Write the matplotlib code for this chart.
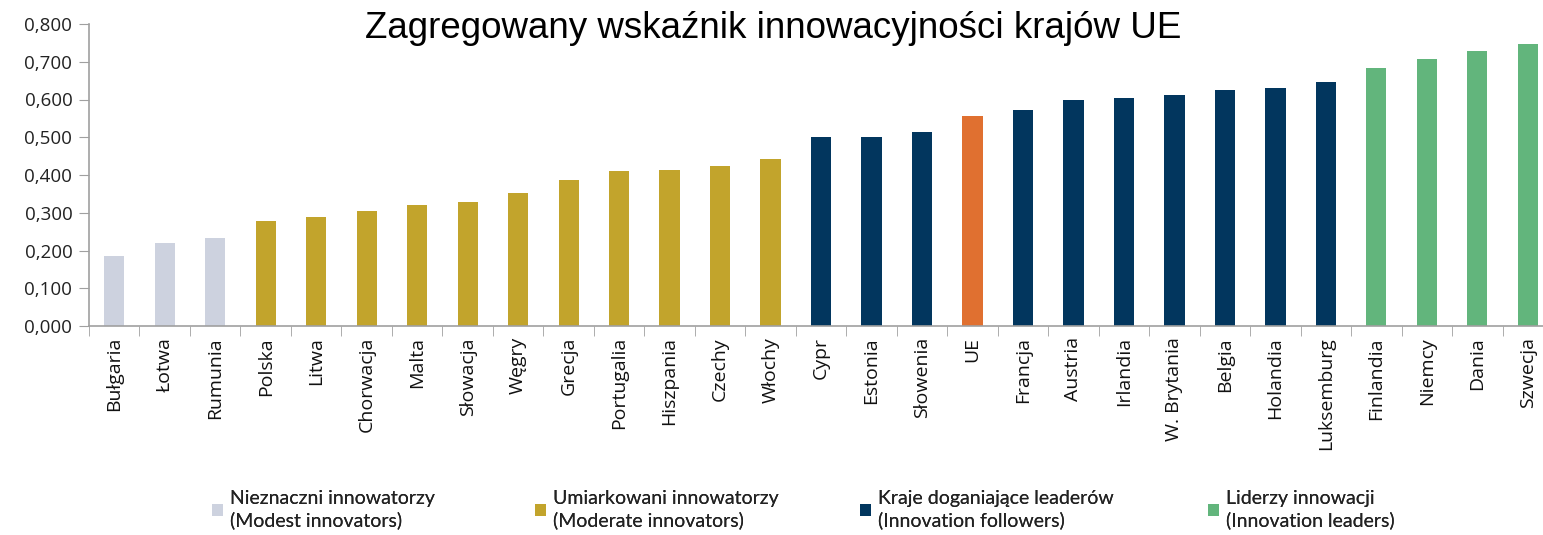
import matplotlib
matplotlib.use("Agg")
import matplotlib.pyplot as plt
from matplotlib.patches import Patch
from matplotlib.ticker import FixedLocator, FuncFormatter
import numpy as np

countries = ["Bułgaria", "Łotwa", "Rumunia", "Polska", "Litwa", "Chorwacja", "Malta",
             "Słowacja", "Węgry", "Grecja", "Portugalia", "Hiszpania", "Czechy", "Włochy",
             "Cypr", "Estonia", "Słowenia", "UE", "Francja", "Austria", "Irlandia",
             "W. Brytania", "Belgia", "Holandia", "Luksemburg", "Finlandia", "Niemcy",
             "Dania", "Szwecja"]
values = [0.186, 0.221, 0.234, 0.279, 0.288, 0.305, 0.320,
          0.328, 0.352, 0.386, 0.410, 0.413, 0.423, 0.443,
          0.501, 0.501, 0.513, 0.555, 0.572, 0.600, 0.605,
          0.611, 0.625, 0.630, 0.646, 0.683, 0.706,
          0.728, 0.748]
groups = (["modest"] * 3 + ["moderate"] * 11 + ["follower"] * 3 + ["eu"] +
          ["follower"] * 7 + ["leader"] * 4)
group_colors = {"modest": "#CDD2DF", "moderate": "#C2A42C", "follower": "#02365E",
                "leader": "#62B57C", "eu": "#E07030"}
legend_keys = ["modest", "moderate", "follower", "leader"]
legend_labels = ["Nieznaczni innowatorzy\n(Modest innovators)",
                 "Umiarkowani innowatorzy\n(Moderate innovators)",
                 "Kraje doganiające leaderów\n(Innovation followers)",
                 "Liderzy innowacji\n(Innovation leaders)"]
yticks = [0.0, 0.1, 0.2, 0.3, 0.4, 0.5, 0.6, 0.7, 0.8]
title = "Zagregowany wskaźnik innowacyjności krajów UE"

W, H = 1543, 535
fig = plt.figure(figsize=(W / 100, H / 100), dpi=100)
ax = fig.add_axes([89 / W, 1 - 326 / H, 1 - 89 / W, (326 - 24) / H])

x = np.arange(len(countries))
ax.bar(x, values, width=0.4, color=[group_colors[g] for g in groups], zorder=2)

ax.set_xlim(-0.5, 28.3)
ax.set_ylim(0, 0.8)
ax.set_yticks(yticks)
ax.yaxis.set_major_formatter(FuncFormatter(lambda v, p: f"{v:.3f}".replace(".", ",")))
ax.xaxis.set_major_locator(FixedLocator(x))
ax.set_xticklabels(countries, rotation=90, fontsize=14, family="Open Sans", color="#111111")
ax.xaxis.set_minor_locator(FixedLocator(np.arange(-0.5, len(countries), 1.0)))
ax.tick_params(axis="x", which="major", length=0, pad=8)
ax.tick_params(axis="x", which="minor", length=7, color="#A0A0A0", direction="out")
ax.tick_params(axis="y", length=7, color="#A0A0A0", direction="out", pad=5)
for lab in ax.get_yticklabels():
    lab.set_fontsize(13.5)
    lab.set_family("Open Sans")
    lab.set_color("#222222")
for s in ["top", "right"]:
    ax.spines[s].set_visible(False)
for s in ["left", "bottom"]:
    ax.spines[s].set_color("#A0A0A0")
    ax.spines[s].set_linewidth(1.2)

fig.text(0.501, 0.946, title, ha="center", va="center", fontsize=26.5, family="Liberation Sans")

legend_x = [196, 519, 844, 1192]
for k, lbl, lx in zip(legend_keys, legend_labels, legend_x):
    leg = fig.legend([Patch(facecolor=group_colors[k])], [lbl], loc="lower left",
                     bbox_to_anchor=(lx / W, -0.018), frameon=False,
                     prop={"family": "Lato", "size": 14}, handlelength=0.6,
                     handleheight=0.6, handletextpad=0.35, borderpad=0.3)
    for t in leg.get_texts():
        t.set_linespacing(1.25)
        t.set_color("#222222")
    fig.add_artist(leg)

fig.savefig("out.png", dpi=100)
